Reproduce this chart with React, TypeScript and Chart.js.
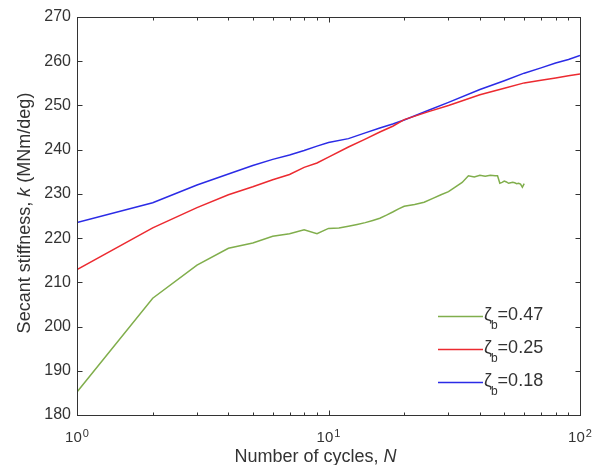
import React, { useEffect, useRef } from "react";
import { Chart, registerables } from "chart.js";

Chart.register(...registerables);

const FONT = '"Liberation Sans", Arial, Helvetica, sans-serif';
const TEXT = "#333333";
const AXIS = "#333333";

// Number of cycles N (log axis)
const cyclesBR = [1, 2, 3, 4, 5, 6, 7, 8, 9, 10, 12, 14, 16, 18, 20, 25, 30, 40, 50, 60, 70, 80, 90, 100];
// zeta_b = 0.18 (blue)
const stiffBlue = [223.5, 228.0, 232.0, 234.5, 236.4, 237.8, 238.8, 239.8, 240.8, 241.6, 242.5, 243.8, 244.9, 245.8, 246.7, 248.9, 250.7, 253.6, 255.6, 257.3, 258.5, 259.6, 260.4, 261.3];
// zeta_b = 0.25 (red)
const stiffRed = [212.9, 222.3, 226.9, 229.8, 231.6, 233.2, 234.4, 236.0, 237.0, 238.3, 240.6, 242.4, 244.0, 245.3, 246.8, 248.6, 250.0, 252.4, 253.9, 255.1, 255.7, 256.2, 256.7, 257.1];

// zeta_b = 0.47 (green)
const cyclesGreen = [1, 2, 3, 4, 5, 6, 7, 8, 9, 10, 11, 12, 13, 14, 15, 16, 17, 18, 19, 20, 22, 24, 26, 28, 30, 32, 34, 36, 38, 40, 42, 44, 46, 47, 48, 49, 50, 51, 52, 53, 54, 55, 56, 57, 58, 59, 60];
const stiffGreen = [185.2, 206.4, 213.9, 217.7, 218.9, 220.4, 221.0, 221.9, 221.0, 222.2, 222.3, 222.7, 223.1, 223.5, 224.0, 224.5, 225.2, 225.9, 226.6, 227.2, 227.6, 228.1, 229.0, 229.8, 230.5, 231.6, 232.6, 234.1, 233.8, 234.2, 234.0, 234.2, 234.1, 234.1, 232.4, 232.6, 232.9, 232.7, 232.4, 232.5, 232.6, 232.5, 232.3, 232.4, 232.2, 231.5, 232.3];

const seriesNames = ["0.47", "0.25", "0.18"];
const seriesColors = ["#80ae4c", "#ec2a30", "#2b2be6"];

const xMajorTicks = [1, 10, 100];
const xMajorExponents = ["0", "1", "2"];
const xMinorTicks = [2, 3, 4, 5, 6, 7, 8, 9, 20, 30, 40, 50, 60, 70, 80, 90];

const yTitleParts: [string, boolean][] = [["Secant stiffness, ", false], ["k", true], [" (MNm/deg)", false]];
const xTitleParts: [string, boolean][] = [["Number of cycles, ", false], ["N", true]];

function drawParts(ctx: CanvasRenderingContext2D, parts: [string, boolean][], size: number, cx: number, y: number) {
  let total = 0;
  const widths = parts.map(([t, it]) => {
    ctx.font = `${it ? "italic " : ""}${size}px ${FONT}`;
    const w = ctx.measureText(t).width;
    total += w;
    return w;
  });
  let x = cx - total / 2;
  parts.forEach(([t, it], i) => {
    ctx.font = `${it ? "italic " : ""}${size}px ${FONT}`;
    ctx.fillText(t, x, y);
    x += widths[i];
  });
}

const decorPlugin = {
  id: "decor",
  afterDraw(chart: any) {
    const { ctx, chartArea: a, scales } = chart;
    const xs = scales.x;
    const ys = scales.y;
    ctx.save();
    ctx.strokeStyle = AXIS;
    ctx.lineWidth = 1;
    const line = (x1: number, y1: number, x2: number, y2: number) => {
      ctx.beginPath();
      ctx.moveTo(x1, y1);
      ctx.lineTo(x2, y2);
      ctx.stroke();
    };
    const L = Math.round(a.left) + 0.5;
    const R = Math.round(a.right) + 0.5;
    const T = Math.round(a.top) + 0.5;
    const B = Math.round(a.bottom) + 0.5;
    ctx.strokeRect(L, T, R - L, B - T);
    // y ticks inward
    ys.ticks.forEach((t: any) => {
      const y = Math.round(ys.getPixelForValue(t.value)) + 0.5;
      line(L, y, L + 5, y);
      line(R, y, R - 5, y);
    });
    // x ticks inward
    xMajorTicks.forEach((v) => {
      const x = Math.round(xs.getPixelForValue(v)) + 0.5;
      line(x, B, x, B - 5);
      line(x, T, x, T + 5);
    });
    xMinorTicks.forEach((v) => {
      const x = Math.round(xs.getPixelForValue(v)) + 0.5;
      line(x, B, x, B - 3);
      line(x, T, x, T + 3);
    });
    // x tick labels 10^n
    ctx.fillStyle = TEXT;
    ctx.textAlign = "left";
    ctx.textBaseline = "alphabetic";
    xMajorTicks.forEach((v, i) => {
      const px = xs.getPixelForValue(v);
      ctx.font = `15px ${FONT}`;
      const wb = ctx.measureText("10").width;
      ctx.font = `11px ${FONT}`;
      const we = ctx.measureText(xMajorExponents[i]).width;
      const start = px - (wb + we + 1) / 2;
      ctx.font = `15px ${FONT}`;
      ctx.fillText("10", start, a.bottom + 27);
      ctx.font = `11px ${FONT}`;
      ctx.fillText(xMajorExponents[i], start + wb + 1, a.bottom + 22);
    });
    // axis titles
    ctx.textAlign = "left";
    drawParts(ctx, xTitleParts, 18, (a.left + a.right) / 2 - 13, a.bottom + 47);
    ctx.save();
    ctx.translate(30, (a.top + a.bottom) / 2 - 3);
    ctx.rotate(-Math.PI / 2);
    drawParts(ctx, yTitleParts, 18, 0, 0);
    ctx.restore();
    // legend
    const rowOffsets = [99.5, 66.5, 33.5];
    seriesNames.forEach((name, i) => {
      const ly = Math.round(a.bottom - rowOffsets[i]) + 0.5;
      ctx.strokeStyle = seriesColors[i];
      ctx.lineWidth = 1.5;
      line(a.right - 142, ly, a.right - 97, ly);
      ctx.fillStyle = TEXT;
      let x = a.right - 96;
      ctx.font = `18px ${FONT}`;
      ctx.fillText("\u03B6", x, ly + 3.5);
      x += ctx.measureText("\u03B6").width;
      ctx.font = `12px ${FONT}`;
      ctx.fillText("b", x - 1, ly + 12);
      x += ctx.measureText("b").width - 1;
      ctx.font = `18px ${FONT}`;
      ctx.fillText("=" + name, x, ly + 3.5);
    });
    ctx.restore();
  },
};

export default function App() {
  const ref = useRef<HTMLCanvasElement>(null);
  useEffect(() => {
    document.body.style.margin = "0";
    const canvas = ref.current!;
    const toPts = (xs: number[], ys: number[]) => xs.map((x, i) => ({ x, y: ys[i] }));
    const common = { pointRadius: 0, borderWidth: 1.5, tension: 0, fill: false };
    const chart = new Chart(canvas, {
      type: "line",
      data: {
        datasets: [
          { label: "\u03B6b=" + seriesNames[0], data: toPts(cyclesGreen, stiffGreen), borderColor: seriesColors[0], ...common },
          { label: "\u03B6b=" + seriesNames[1], data: toPts(cyclesBR, stiffRed), borderColor: seriesColors[1], ...common },
          { label: "\u03B6b=" + seriesNames[2], data: toPts(cyclesBR, stiffBlue), borderColor: seriesColors[2], ...common },
        ],
      },
      options: {
        responsive: false,
        animation: false,
        layout: { padding: { left: 0, right: 19, top: 17, bottom: 0 } },
        plugins: { legend: { display: false }, tooltip: { enabled: false } },
        scales: {
          x: {
            type: "logarithmic",
            min: 1,
            max: 100,
            grid: { display: false, drawTicks: false },
            border: { display: false },
            ticks: { display: false },
            afterFit: (s: any) => { s.height = 50; },
          },
          y: {
            type: "linear",
            min: 180,
            max: 270,
            grid: { display: false, drawTicks: false },
            border: { display: false },
            ticks: { stepSize: 10, padding: 6, color: TEXT, font: { family: FONT, size: 16 } },
            afterFit: (s: any) => { s.width = 77; },
          },
        },
      } as any,
      plugins: [decorPlugin],
    });
    return () => chart.destroy();
  }, []);
  return (
    <div style={{ width: 599, height: 465 }}>
      <canvas ref={ref} width={599} height={465} style={{ display: "block" }} />
    </div>
  );
}
